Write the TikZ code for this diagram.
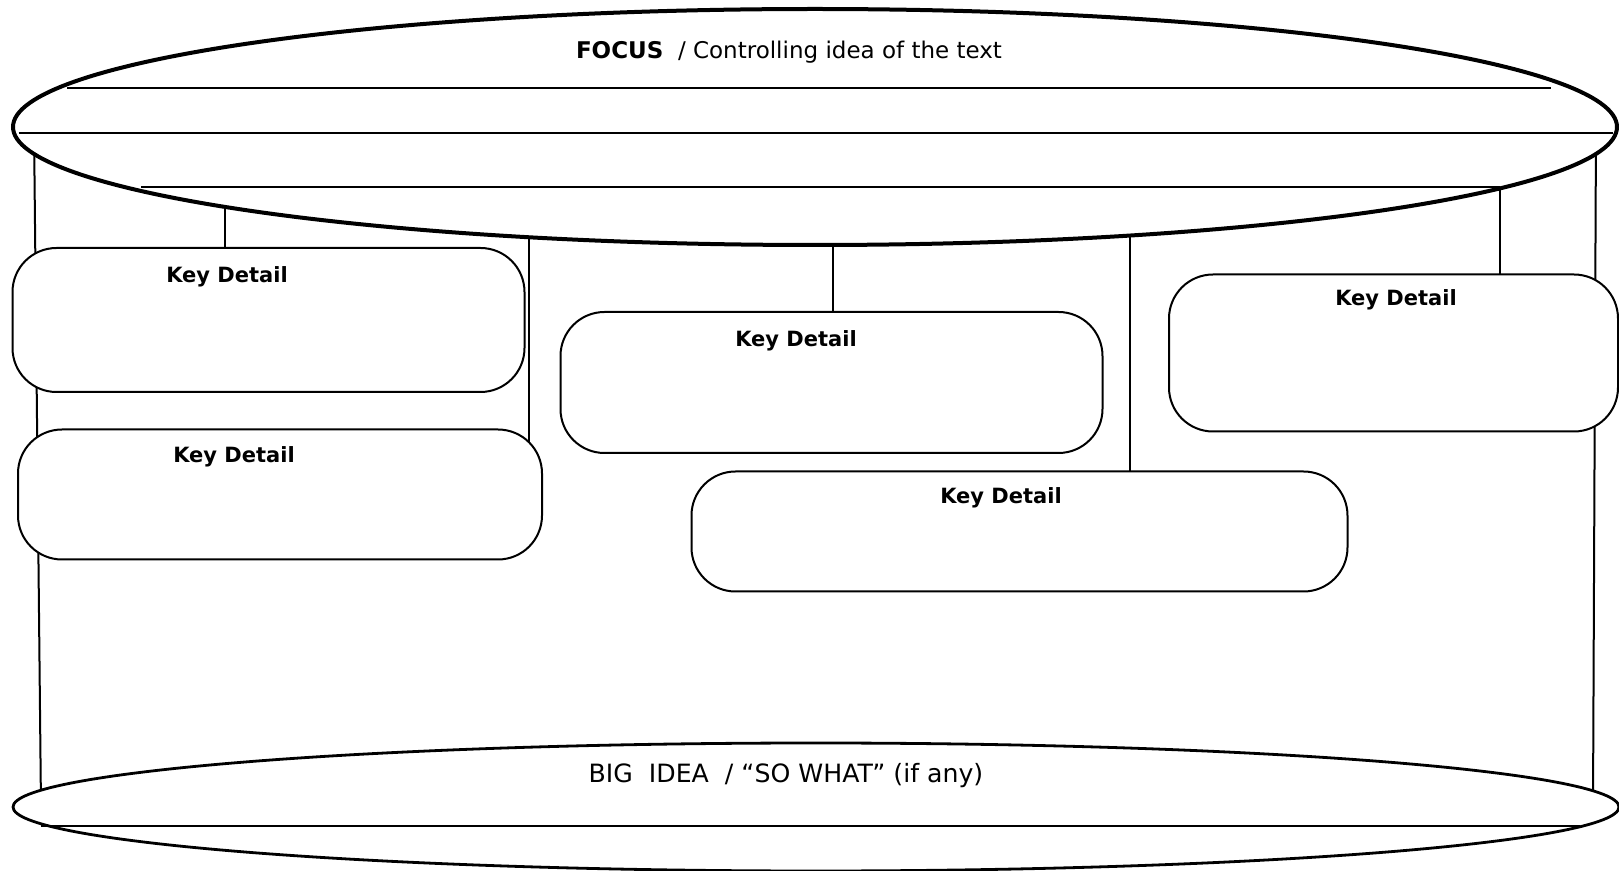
\documentclass[tikz,border=0pt]{standalone}
\usepackage{fontspec}
\setmainfont{DejaVu Sans}
\usetikzlibrary{shapes.geometric,backgrounds}

\begin{document}
\begin{tikzpicture}[x=0.5pt,y=-0.5pt,
  oval/.style={draw,ellipse,fill=white,inner sep=0pt},
  keybox/.style={draw,line width=1pt,rounded corners=22pt,fill=white,inner sep=0pt},
  keylabel/.style={font=\bfseries\fontsize{10.5}{12}\selectfont},
  plain/.style={font=\fontsize{11.5}{13}\selectfont},
  rule/.style={line width=1pt},
  link/.style={line width=1pt}]
\useasboundingbox (0,0) rectangle (1619,871);
% ovals
\node[oval,line width=2pt,minimum width=802pt,minimum height=118pt] (focus) at (815,127) {};
\node[oval,line width=1.4pt,minimum width=803pt,minimum height=64pt] (bigidea) at (816,807) {};
% key detail boxes
\node[keybox,minimum width=256pt,minimum height=72pt] (kd1) at (268.5,320) {};
\node[keybox,minimum width=262pt,minimum height=65pt] (kd2) at (280,494.5) {};
\node[keybox,minimum width=271pt,minimum height=70.5pt] (kd3) at (831.5,382.5) {};
\node[keybox,minimum width=328pt,minimum height=60pt] (kd4) at (1019.5,531.5) {};
\node[keybox,minimum width=224.5pt,minimum height=78.5pt] (kd5) at (1393.5,353) {};
\node[keylabel] (kd1t) at (227,277) {Key Detail};
\node[keylabel] (kd2t) at (234,457) {Key Detail};
\node[keylabel] (kd3t) at (796,341) {Key Detail};
\node[keylabel] (kd4t) at (1001,498) {Key Detail};
\node[keylabel] (kd5t) at (1396,300) {Key Detail};
% writing lines
\draw[rule] (67,88) -- (1551,88);
\draw[rule] (18.6,133) -- (1613,133);
\draw[rule] (141,187) -- (1500,187);
\draw[rule] (41,826) -- (1580,826);
\node[plain] (focust) at (789,52) {\textbf{FOCUS}\ \ /\ Controlling idea of the text};
\node[plain,font=\fontsize{12.6}{14}\selectfont] (bigideat) at (786,776) {BIG\ \ IDEA\ \ / “SO WHAT” (if any)};
% links behind the shapes
\begin{pgfonlayer}{background}
\draw[link] (focus.center -| 34,0) -- (bigidea.center -| 41,0);
\draw[link] (focus.center -| 1596,0) -- (bigidea.center -| 1593,0);
\draw[link] (focus.center -| 225,0) -- (kd1.center -| 225,0);
\draw[link] (focus.center -| 529,0) -- (kd2.center -| 529,0);
\draw[link] (focus.center -| 833,0) -- (kd3.center -| 833,0);
\draw[link] (focus.center -| 1129.5,0) -- (kd4.center -| 1129.5,0);
\draw[link] (focus.center -| 1500,0) -- (kd5.center -| 1500,0);
\end{pgfonlayer}
\end{tikzpicture}
\end{document}
